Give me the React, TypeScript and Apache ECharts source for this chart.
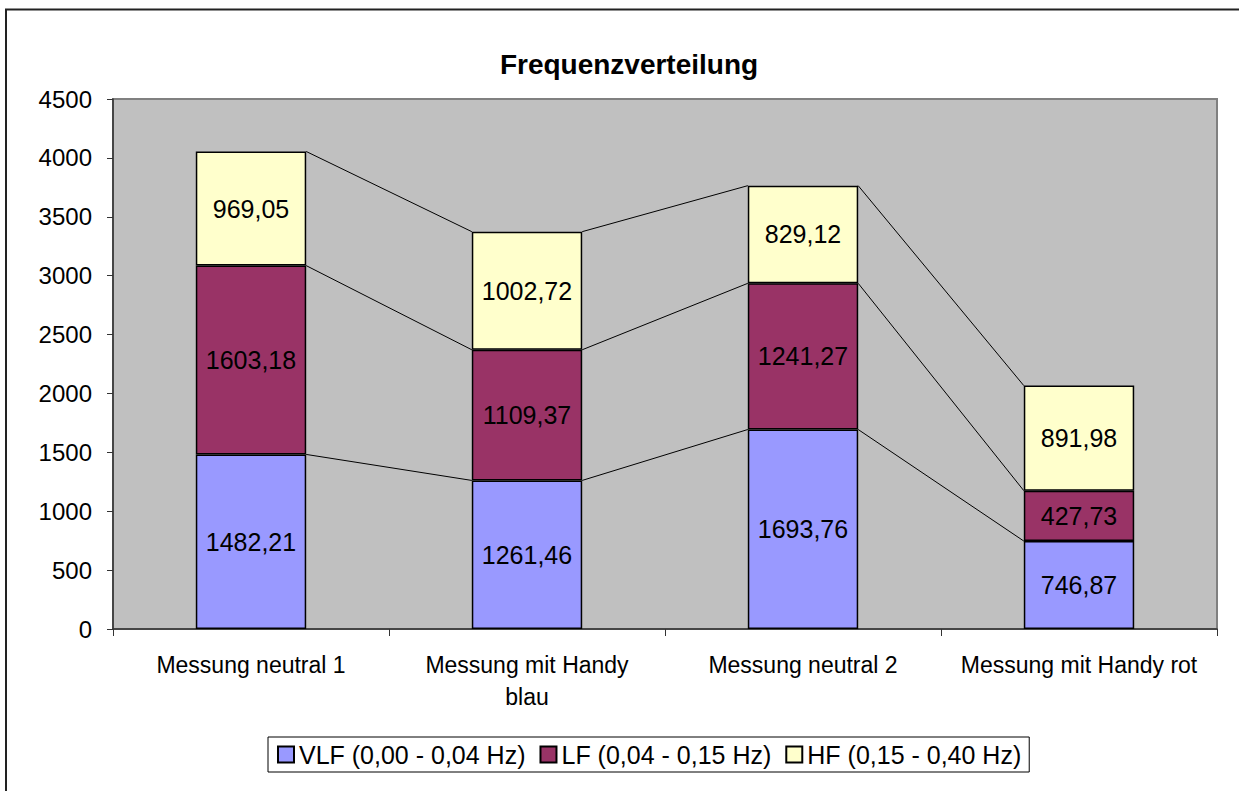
import React, { useEffect, useRef } from "react";
import * as echarts from "echarts";

const categories = ["Messung neutral 1", "Messung mit Handy\nblau", "Messung neutral 2", "Messung mit Handy rot"];
const vlf = [1482.21, 1261.46, 1693.76, 746.87];
const lf = [1603.18, 1109.37, 1241.27, 427.73];
const hf = [969.05, 1002.72, 829.12, 891.98];
const seriesNames = ["VLF (0,00 - 0,04 Hz)", "LF (0,04 - 0,15 Hz)", "HF (0,15 - 0,40 Hz)"];
const colors = ["#9999FF", "#993366", "#FFFFCC"];
const title = "Frequenzverteilung";

const FONT = "Arial, 'Liberation Sans', sans-serif";

export default function App() {
  const ref = useRef<HTMLDivElement>(null);
  useEffect(() => {
    document.body.style.margin = "0";
    const chart = echarts.init(ref.current!, null, { renderer: "svg" });
    const fmt = (p: any) => Number(p.value).toFixed(2).replace(".", ",");
    const all = [vlf, lf, hf];
    const cum = categories.map((_, i) => {
      const a = vlf[i];
      const b = a + lf[i];
      const c = b + hf[i];
      return [i, a, b, c];
    });
    const barFrac = 0.4;
    const barSeries = all.map((d, k) => ({
      name: seriesNames[k],
      type: "bar",
      stack: "total",
      barWidth: "40%",
      data: d,
      itemStyle: { color: colors[k], borderColor: "#000", borderWidth: 1.5 },
      label: {
        show: true,
        position: "inside",
        formatter: fmt,
        color: "#000",
        fontSize: 25,
        fontFamily: FONT,
      },
      emphasis: { disabled: true },
    }));
    const lineSeries = {
      type: "custom",
      data: cum.slice(0, categories.length - 1),
      renderItem: (params: any, api: any) => {
        const i = api.value(0);
        const bw = api.size([1, 0])[0] * barFrac;
        const children: any[] = [];
        for (let k = 1; k <= 3; k++) {
          const p1 = api.coord([i, api.value(k)]);
          const p2 = api.coord([i + 1, cum[i + 1][k]]);
          children.push({
            type: "line",
            shape: { x1: p1[0] + bw / 2, y1: p1[1], x2: p2[0] - bw / 2, y2: p2[1] },
            style: { stroke: "#000", lineWidth: 1 },
          });
        }
        return { type: "group", children };
      },
      z: 1,
      silent: true,
    };
    chart.setOption({
      animation: false,
      backgroundColor: "#fff",
      textStyle: { fontFamily: FONT },
      title: {
        text: title,
        left: 624,
        textAlign: "center",
        top: 45,
        textStyle: { fontSize: 28, fontWeight: "bold", color: "#000", fontFamily: FONT },
      },
      graphic: [
        {
          type: "rect",
          shape: { x: 6, y: 9.5, width: 1400, height: 1000 },
          style: { fill: "none", stroke: "#222", lineWidth: 2 },
          silent: true,
        },
      ],
      legend: {
        data: seriesNames,
        icon: "rect",
        left: 268,
        top: 737,
        itemWidth: 16,
        itemHeight: 16,
        itemGap: 14,
        borderColor: "#000",
        borderWidth: 1,
        padding: [5, 8, 5, 9],
        textStyle: { fontSize: 25, color: "#000", fontFamily: FONT },
        selectedMode: false,
      },
      grid: {
        left: 113,
        top: 99,
        right: 22,
        bottom: 162,
        show: true,
        backgroundColor: "#C0C0C0",
        borderColor: "#808080",
        borderWidth: 2,
        containLabel: false,
      },
      xAxis: {
        type: "category",
        data: categories,
        boundaryGap: true,
        axisLine: { lineStyle: { color: "#333", width: 1.5 } },
        axisTick: { show: true, length: 7, lineStyle: { color: "#333" } },
        axisLabel: { color: "#000", fontSize: 23, fontFamily: FONT, margin: 20, lineHeight: 32, interval: 0 },
      },
      yAxis: {
        type: "value",
        min: 0,
        max: 4500,
        interval: 500,
        axisLine: { show: true, lineStyle: { color: "#333", width: 1.5 } },
        axisTick: { show: true, length: 6, lineStyle: { color: "#333" } },
        splitLine: { show: false },
        axisLabel: { color: "#000", fontSize: 24, fontFamily: FONT, margin: 21, formatter: (v: number) => String(v) },
      },
      series: [...barSeries, lineSeries],
    });
    return () => chart.dispose();
  }, []);
  return <div ref={ref} style={{ width: 1239, height: 791 }} />;
}
